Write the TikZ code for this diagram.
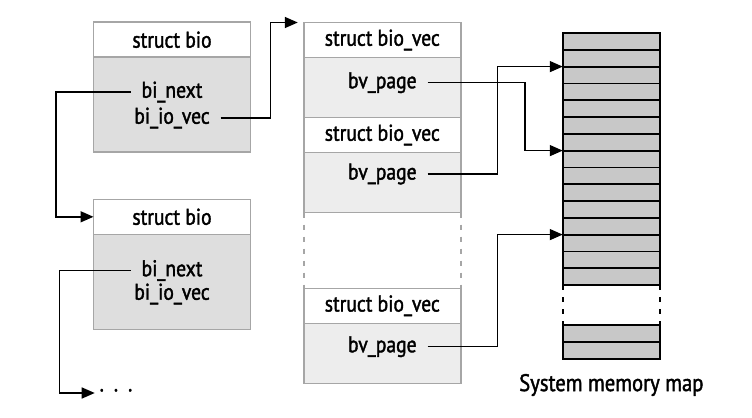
\documentclass[tikz,border=0pt]{standalone}
\usepackage{fontspec}
\setmainfont{PT Sans}[FakeStretch=0.86,FakeBold=1.6]
\usepackage{tikz}
\usetikzlibrary{arrows.meta,positioning,calc}
\usepackage{xcolor}
\definecolor{boxline}{RGB}{166,166,166}
\definecolor{biofill}{RGB}{222,222,222}
\definecolor{vecfill}{RGB}{237,237,237}
\definecolor{memfill}{RGB}{200,200,200}

\tikzset{
  boxpart/.style={rectangle,draw=boxline,line width=0.8pt,outer sep=0pt,minimum width=78.5pt},
  headbox/.style={boxpart,fill=white,minimum height=17.5pt},
  biobody/.style={boxpart,fill=biofill,minimum height=47.5pt},
  vecbody/.style={boxpart,fill=vecfill,minimum height=30pt},
  fld/.style={inner sep=1pt,outer sep=4.5pt},
  cell/.style={rectangle,draw=black,line width=0.9pt,fill=memfill,outer sep=0pt,minimum width=48.6pt,minimum height=8.4pt},
  link/.style={draw=black,line width=0.75pt,-{Triangle[length=6.5pt,width=5.5pt]}},
  gapline/.style={line width=0.9pt,dash pattern=on 2.7pt off 3.3pt}
}

\begin{document}
\begin{tikzpicture}[x=0.5pt,y=-0.5pt,font=\fontsize{11.4}{12.5}\selectfont]
        \useasboundingbox (0,0) rectangle (752,418);

        % first struct bio
        \node[headbox] (bio1h) at (172,39.7) {struct bio};
        \node[biobody,below=0pt of bio1h] (bio1b) {};
        \node[fld] (next1) at (172,92) {bi\_next};
        \node[fld] (io1) at (172,118) {bi\_io\_vec};

        % second struct bio
        \node[headbox] (bio2h) at (172,216.8) {struct bio};
        \node[biobody,below=0pt of bio2h] (bio2b) {};
        \node[fld] (next2) at (172,270.5) {bi\_next};
        \node[fld] (io2) at (172,294) {bi\_io\_vec};

        % end of the list
        \node[inner sep=0pt] (dots) at (116,393) {\textperiodcentered\hspace{4.5pt}\textperiodcentered\hspace{4.5pt}\textperiodcentered};

        % bio_vec array
        \node[headbox] (vec1h) at (382.3,40) {struct bio\_vec};
        \node[vecbody,below=0pt of vec1h] (vec1b) {};
        \node[fld] (page1) at (382.3,82.7) {bv\_page};
        \node[headbox,below=0pt of vec1b] (vec2h) {struct bio\_vec};
        \node[vecbody,below=0pt of vec2h] (vec2b) {};
        \node[fld] (page2) at (382.3,174) {bv\_page};
        \node[headbox] (vec3h) at (382.3,305.8) {struct bio\_vec};
        \node[vecbody,below=0pt of vec3h] (vec3b) {};
        \node[fld] (page3) at (382.3,346.7) {bv\_page};
        \draw[boxline,gapline,line width=0.8pt] (vec2b.south west) -- (vec3h.north west);
        \draw[boxline,gapline,line width=0.8pt] (vec2b.south east) -- (vec3h.north east);

        % system memory map
        \foreach \i in {1,...,15}
            \node[cell] (mem\i) at (611.35,{41.4+16.8*(\i-1)}) {};
        \node[cell] (mem16) at (611.35,333.4) {};
        \node[cell] (mem17) at (611.35,350.2) {};
        \draw[gapline] (mem15.south west) -- (mem16.north west);
        \draw[gapline] (mem15.south east) -- (mem16.north east);
        \node[font=\fontsize{12}{13}\selectfont] (memlabel) at (611.35,385) {System memory map};

        % links
        \draw[link] (next1.west) -| ([xshift=-18.7pt]bio2h.west) -- (bio2h.west);
        \draw[link] (next2.west) -| ([xshift=-19.5pt]dots.west) -- ([xshift=-2pt]dots.west);
        \draw[link] (io1.east) -| ([xshift=-16.7pt]vec1h.north west) -- ([xshift=-3pt]vec1h.north west);
        \draw[link] (page1.east) -| ([xshift=-18.8pt]mem7.south west) -- (mem7.south west);
        \draw[link] (page2.east) -| ([xshift=-32.7pt]mem2.south west) -- (mem2.south west);
        \draw[link] (page3.east) -| ([xshift=-32.7pt]mem12.south west) -- (mem12.south west);
    \end{tikzpicture}
\end{document}
